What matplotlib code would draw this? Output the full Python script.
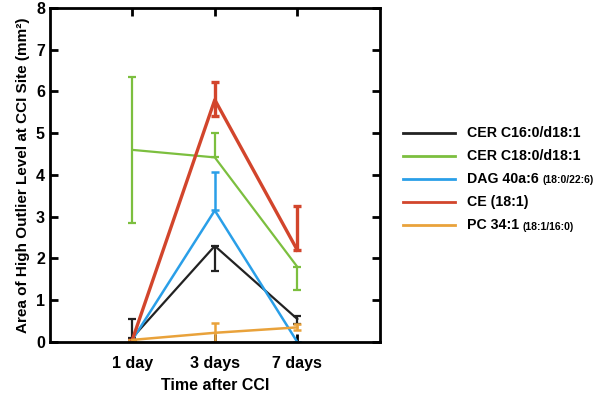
import matplotlib.pyplot as plt
import numpy as np

plt.rcParams['font.family'] = ['Liberation Sans', 'DejaVu Sans']

# data
days = ['1 day', '3 days', '7 days']
labels = ['CER C16:0/d18:1', 'CER C18:0/d18:1', 'DAG 40a:6', 'CE (18:1)', 'PC 34:1']
label_extra = ['', '', ' (18:0/22:6)', '', ' (18:1/16:0)']

cer16 = [0.10, 2.30, 0.55]
cer16_lo = [0.0, 0.60, 0.12]
cer16_hi = [0.45, 0.0, 0.08]

cer18 = [4.60, 4.42, 1.80]
cer18_lo = [1.75, 0.0, 0.55]
cer18_hi = [1.75, 0.58, 0.0]

dag = [0.05, 3.15, 0.0]
dag_lo = [0.0, 0.0, 0.0]
dag_hi = [0.0, 0.93, 0.0]

ce = [0.05, 5.80, 2.20]
ce_lo = [0.0, 0.40, 0.0]
ce_hi = [0.0, 0.42, 1.05]

pc = [0.05, 0.22, 0.35]
pc_lo = [0.0, 0.22, 0.07]
pc_hi = [0.0, 0.23, 0.07]

colors = ['#222222', '#7cbf3f', '#2a9fe8', '#d2452c', '#e9a23b']
widths = [1.6, 1.6, 1.8, 2.4, 1.8]

series = [(cer16, cer16_lo, cer16_hi), (cer18, cer18_lo, cer18_hi),
          (dag, dag_lo, dag_hi), (ce, ce_lo, ce_hi), (pc, pc_lo, pc_hi)]

fig = plt.figure(figsize=(6, 3.94), dpi=100)
ax = fig.add_axes([0.083, 0.132, 0.55, 0.848])

x = np.arange(1, len(days) + 1)
for (y, lo, hi), c, w in zip(series, colors, widths):
    ax.errorbar(x, y, yerr=[lo, hi], color=c, lw=w, elinewidth=w,
                capsize=3, capthick=w)

ax.set_xlim(0, 4)
ax.set_ylim(0, 8)
ax.set_xticks(x)
ax.set_xticklabels(days)
ax.set_yticks(range(0, 9))
ax.tick_params(direction='in', length=6, width=2, top=True, right=True,
               labelsize=11.5)
ax.tick_params(axis='x', pad=10)
for t in ax.get_xticklabels() + ax.get_yticklabels():
    t.set_fontweight('bold')
for s in ax.spines.values():
    s.set_linewidth(2)
ax.set_xlabel('Time after CCI', fontsize=11.5, fontweight='bold', labelpad=5)
ax.set_ylabel('Area of High Outlier Level at CCI Site (mm²)',
              fontsize=11, fontweight='bold', labelpad=4)

# legend on the right
for i, (lab, ext, c) in enumerate(zip(labels, label_extra, colors)):
    yy = 0.662 - i * 0.0585
    fig.add_artist(plt.Line2D([0.672, 0.758], [yy, yy], color=c, lw=2))
    t = fig.text(0.778, yy, lab, fontsize=10.2, fontweight='bold', va='center')
    if ext:
        fig.canvas.draw()
        bb = t.get_window_extent()
        fig.text(bb.x1 / fig.bbox.width + 0.006, yy - 0.003, ext.strip(),
                 fontsize=7.5, fontweight='bold', va='center')

fig.savefig('out.png', dpi=100)
